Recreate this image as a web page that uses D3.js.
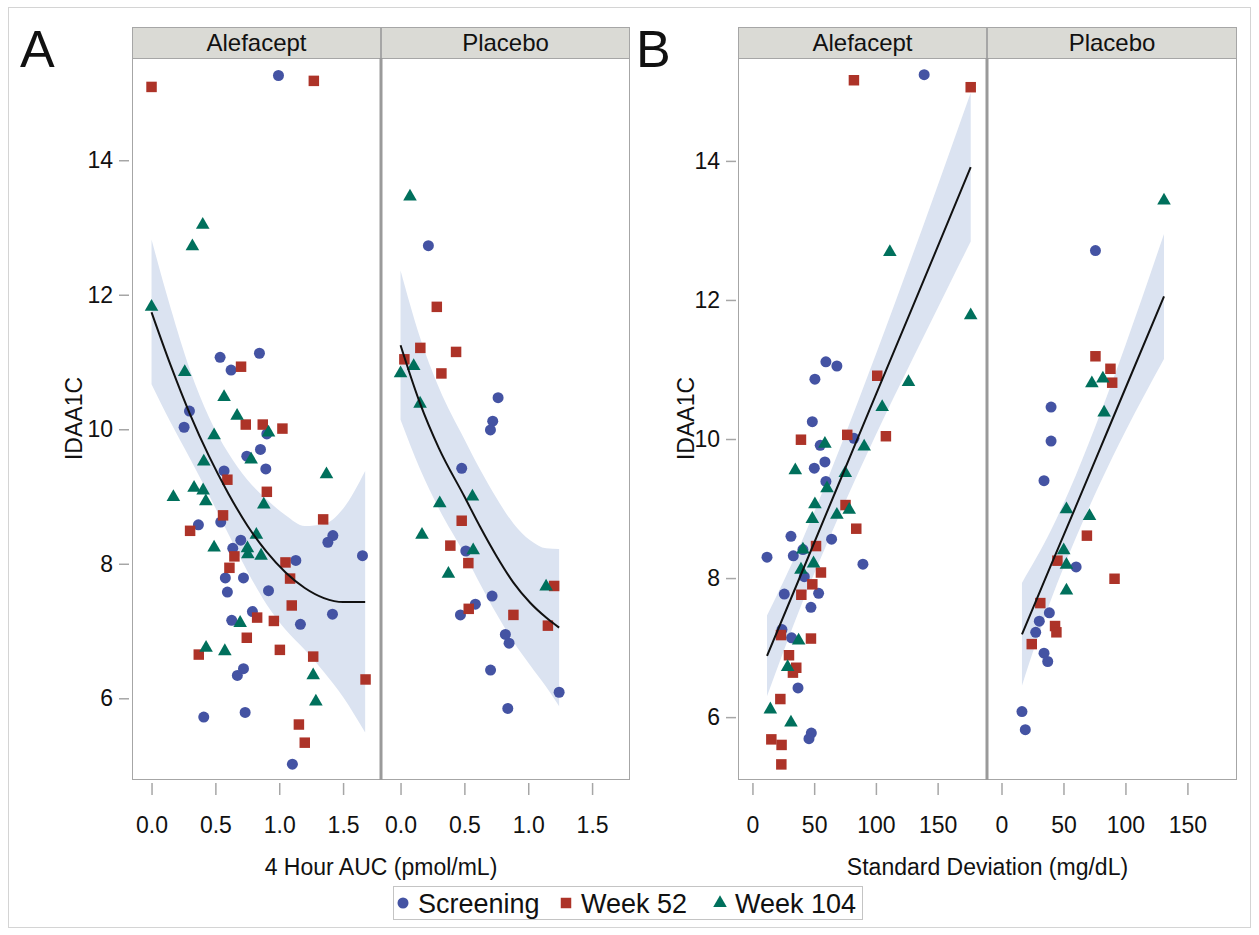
<!DOCTYPE html>
<html>
<head>
<meta charset="utf-8">
<script src="https://cdn.jsdelivr.net/npm/d3@7"></script>
<style>
  body { margin: 0; background: #fff; }
  svg text { font-family: "Liberation Sans", Arial, Helvetica, sans-serif; fill: #111; }
</style>
</head>
<body>
<svg id="chart" width="1259" height="935"></svg>
<script>
// ---- Categories and labels ----
const groups = ["Alefacept", "Placebo"];
const seriesNames = ["Screening", "Week 52", "Week 104"];
const yTicks = [6, 8, 10, 12, 14];
const aucTicks = [0, 0.5, 1.0, 1.5];
const sdTicks = [0, 50, 100, 150];
const yTitle = "IDAA1C";
const aucTitle = "4 Hour AUC (pmol/mL)";
const sdTitle = "Standard Deviation (mg/dL)";

// ---- Panel A: 4 hour AUC vs IDAA1C, Alefacept ----
const aucAlefScreening = [[0.994,15.26],[0.537,11.07],[0.845,11.13],[0.623,10.88],[0.297,10.27],[0.255,10.03],[0.903,9.93],[0.853,9.70],[0.746,9.60],[0.895,9.41],[0.568,9.38],[0.542,8.62],[0.367,8.58],[1.42,8.42],[1.381,8.32],[0.699,8.35],[0.636,8.23],[0.578,7.79],[0.72,7.79],[0.594,7.58],[0.916,7.60],[1.13,8.05],[1.652,8.12],[1.417,7.25],[0.79,7.29],[0.628,7.16],[1.166,7.10],[0.72,6.44],[0.672,6.34],[0.409,5.72],[0.733,5.79],[1.103,5.02]];
const aucAlefWeek52 = [[0.0,15.09],[1.271,15.18],[0.701,10.93],[0.738,10.07],[0.871,10.07],[1.025,10.01],[0.594,9.25],[0.903,9.07],[0.56,8.72],[0.302,8.49],[1.344,8.66],[0.649,8.11],[0.61,7.94],[1.049,8.02],[1.085,7.78],[1.098,7.38],[0.827,7.20],[0.958,7.15],[0.746,6.90],[1.005,6.72],[1.266,6.62],[0.37,6.65],[1.676,6.28],[1.154,5.61],[1.2,5.34]];
const aucAlefWeek104 = [[0.401,13.04],[0.32,12.72],[0.0,11.82],[0.26,10.85],[0.568,10.48],[0.67,10.20],[0.916,9.95],[0.49,9.91],[0.78,9.55],[0.409,9.52],[0.171,8.99],[0.333,9.13],[0.404,9.09],[0.425,8.93],[0.879,8.88],[1.37,9.33],[0.821,8.43],[0.49,8.24],[0.751,8.23],[0.754,8.14],[0.858,8.12],[0.694,7.12],[0.427,6.75],[0.574,6.70],[1.266,6.34],[1.287,5.95]];
// quadratic fit with its confidence limits, sampled along the x range
const aucAlefFitX = [0, 0.15, 0.3, 0.45, 0.6, 0.75, 0.9, 1.05, 1.2, 1.35, 1.5, 1.673];
const aucAlefFit  = [11.74, 10.95, 10.23, 9.60, 9.05, 8.57, 8.18, 7.87, 7.64, 7.49, 7.43, 7.43];
const aucAlefLow  = [10.67, 10.10, 9.57, 9.02, 8.45, 7.89, 7.40, 7.02, 6.72, 6.39, 6.02, 5.49];
const aucAlefHigh = [12.82, 11.80, 10.89, 10.18, 9.65, 9.25, 8.96, 8.72, 8.56, 8.59, 8.82, 9.38];

// ---- Panel A: Placebo ----
const aucPlacScreening = [[0.218,12.73],[0.764,10.47],[0.722,10.12],[0.704,9.99],[0.479,9.42],[0.511,8.19],[0.717,7.52],[0.586,7.40],[0.469,7.24],[0.821,6.95],[0.85,6.82],[0.705,6.42],[1.242,6.09],[0.84,5.85]];
const aucPlacWeek52 = [[0.284,11.82],[0.155,11.21],[0.435,11.15],[0.03,11.04],[0.32,10.83],[0.479,8.64],[0.39,8.27],[0.531,8.01],[1.203,7.67],[0.534,7.33],[0.884,7.24],[1.154,7.08]];
const aucPlacWeek104 = [[0.074,13.46],[0.103,10.94],[0.0,10.83],[0.153,10.38],[0.307,8.90],[0.563,9.00],[0.168,8.43],[0.569,8.20],[0.375,7.85],[1.14,7.66]];
const aucPlacFitX = [0, 0.15, 0.3, 0.5, 0.623, 0.75, 0.884, 1.015, 1.14, 1.242];
const aucPlacFit  = [11.25, 10.40, 9.72, 9.00, 8.55, 8.12, 7.72, 7.42, 7.20, 7.05];
const aucPlacLow  = [10.14, 9.42, 8.82, 8.15, 7.70, 7.26, 6.84, 6.49, 6.17, 5.88];
const aucPlacHigh = [12.36, 11.38, 10.62, 9.85, 9.40, 8.98, 8.60, 8.35, 8.23, 8.22];

// ---- Panel B: glucose standard deviation vs IDAA1C, Alefacept ----
const sdAlefScreening = [[139.1,15.24],[59.5,11.11],[68.4,11.05],[50.6,10.86],[48.5,10.25],[82.2,10.01],[54.9,9.91],[58.7,9.67],[50.1,9.58],[59.5,9.39],[31.2,8.60],[64.1,8.56],[11.8,8.30],[33.1,8.32],[40.9,8.41],[89.5,8.20],[42.0,8.02],[25.8,7.77],[53.6,7.78],[47.4,7.58],[23.9,7.26],[31.7,7.14],[36.9,6.42],[47.7,5.77],[45.8,5.69]];
const sdAlefWeek52 = [[82.2,15.16],[176.8,15.06],[101.1,10.91],[39.3,9.99],[76.8,10.06],[108.1,10.04],[75.4,9.05],[84.1,8.71],[51.5,8.46],[55.5,8.08],[48.5,7.91],[39.6,7.76],[23.1,7.18],[47.4,7.13],[29.6,6.89],[35.5,6.71],[32.8,6.64],[22.6,6.26],[15.3,5.68],[23.6,5.60],[23.4,5.32]];
const sdAlefWeek104 = [[111.3,12.69],[176.8,11.78],[126.4,10.82],[105.1,10.46],[58.7,9.93],[90.5,9.89],[34.7,9.55],[75.2,9.51],[60.4,9.29],[50.6,9.06],[78.4,8.98],[48.5,8.85],[68.4,8.91],[40.9,8.41],[49.5,8.21],[39.3,8.12],[37.4,7.10],[28.5,6.72],[14.5,6.11],[31.2,5.92]];
const sdAlefFitX = [11.8, 40, 70, 100, 130, 160, 176.8];
const sdAlefFit  = [6.88, 8.08, 9.36, 10.64, 11.91, 13.19, 13.91];
const sdAlefLow  = [6.30, 7.63, 8.89, 10.06, 11.16, 12.24, 12.84];
const sdAlefHigh = [7.46, 8.53, 9.83, 11.22, 12.66, 14.14, 14.98];

// ---- Panel B: Placebo ----
const sdPlacScreening = [[75.8,12.71],[40.0,10.46],[40.0,9.97],[34.3,9.40],[60.2,8.16],[38.6,7.50],[30.5,7.38],[27.6,7.22],[34.3,6.92],[37.3,6.80],[16.5,6.08],[19.2,5.82]];
const sdPlacWeek52 = [[75.8,11.19],[87.9,11.01],[89.3,10.81],[68.9,8.61],[45.1,8.25],[91.2,7.99],[31.3,7.64],[43.2,7.31],[44.3,7.22],[24.4,7.05]];
const sdPlacWeek104 = [[131.1,13.43],[72.9,10.80],[81.8,10.87],[82.8,10.38],[52.4,8.99],[71.0,8.89],[50.2,8.40],[52.4,8.19],[52.4,7.82]];
const sdPlacFitX = [16.5, 40, 60, 80, 100, 131.1];
const sdPlacFit  = [7.19, 8.19, 9.03, 9.88, 10.73, 12.05];
const sdPlacLow  = [6.45, 7.69, 8.58, 9.38, 10.11, 11.15];
const sdPlacHigh = [7.93, 8.69, 9.48, 10.38, 11.35, 12.95];

// ---- Appearance ----
const colors = { "Screening": "#4453a3", "Week 52": "#ad3328", "Week 104": "#00705c" };
const symbols = { "Screening": d3.symbolCircle, "Week 52": d3.symbolSquare, "Week 104": d3.symbolTriangle };
const symSize = { "Screening": 95, "Week 52": 110, "Week 104": 80 };
const bandColor = "#dbe3f1";
const frameColor = "#a6a6a6";
const headerFill = "#dadad5";

const svg = d3.select("#chart");

// outer frame around the whole figure
svg.append("rect").attr("x", 8.5).attr("y", 7.5).attr("width", 1242).attr("height", 920)
  .attr("fill", "none").attr("stroke", "#d4d4d4").attr("stroke-width", 1);

function makeFacet(series, fitX, fit, low, high) {
  return {
    series: { "Screening": series[0], "Week 52": series[1], "Week 104": series[2] },
    fitX, fit, low, high
  };
}

const panels = [
  {
    letter: "A", letterX: 20,
    facetX: [[132, 381], [381, 630]],
    xDomain: [-0.153, 1.797], yDomain: [4.8, 15.52],
    xTicks: aucTicks, xFormat: d3.format(".1f"), xTitle: aucTitle,
    yAxisX: 129, yTitleX: 82,
    facets: [
      makeFacet([aucAlefScreening, aucAlefWeek52, aucAlefWeek104], aucAlefFitX, aucAlefFit, aucAlefLow, aucAlefHigh),
      makeFacet([aucPlacScreening, aucPlacWeek52, aucPlacWeek104], aucPlacFitX, aucPlacFit, aucPlacLow, aucPlacHigh)
    ]
  },
  {
    letter: "B", letterX: 636,
    facetX: [[738, 987], [987, 1237]],
    xDomain: [-11.7, 190], yDomain: [5.11, 15.48],
    xTicks: sdTicks, xFormat: d3.format("d"), xTitle: sdTitle,
    yAxisX: 736, yTitleX: 694,
    facets: [
      makeFacet([sdAlefScreening, sdAlefWeek52, sdAlefWeek104], sdAlefFitX, sdAlefFit, sdAlefLow, sdAlefHigh),
      makeFacet([sdPlacScreening, sdPlacWeek52, sdPlacWeek104], sdPlacFitX, sdPlacFit, sdPlacLow, sdPlacHigh)
    ]
  }
];

const plotTop = 58, plotBottom = 779, headerTop = 27;

panels.forEach((p, pi) => {
  const g = svg.append("g");
  const y = d3.scaleLinear().domain(p.yDomain).range([plotBottom, plotTop]);

  // panel letter
  g.append("text").attr("x", p.letterX).attr("y", 67)
    .attr("font-size", 52).text(p.letter);

  p.facets.forEach((f, fi) => {
    const [x0, x1] = p.facetX[fi];
    const x = d3.scaleLinear().domain(p.xDomain).range([x0, x1]);
    const clipId = `clip-${pi}-${fi}`;
    svg.append("clipPath").attr("id", clipId)
      .append("rect").attr("x", x0).attr("y", plotTop).attr("width", x1 - x0).attr("height", plotBottom - plotTop);

    // facet header
    g.append("rect").attr("x", x0 + 0.5).attr("y", headerTop + 0.5)
      .attr("width", x1 - x0 - 1).attr("height", plotTop - headerTop)
      .attr("fill", headerFill).attr("stroke", frameColor);
    g.append("text").attr("x", (x0 + x1) / 2).attr("y", headerTop + 24)
      .attr("text-anchor", "middle").attr("font-size", 24).text(groups[fi]);

    const plot = g.append("g").attr("clip-path", `url(#${clipId})`);

    // confidence band
    const bandPts = f.fitX.map((v, i) => ({ x: v, lo: f.low[i], hi: f.high[i] }));
    plot.append("path").datum(bandPts)
      .attr("fill", bandColor)
      .attr("d", d3.area().x(d => x(d.x)).y0(d => y(d.lo)).y1(d => y(d.hi)).curve(d3.curveMonotoneX));

    // scatter points per visit
    seriesNames.forEach(s => {
      plot.selectAll(null).data(f.series[s]).enter().append("path")
        .attr("transform", d => `translate(${x(d[0])},${y(d[1])})`)
        .attr("d", d3.symbol().type(symbols[s]).size(symSize[s]))
        .attr("fill", colors[s]);
    });

    // fitted curve
    const fitPts = f.fitX.map((v, i) => ({ x: v, y: f.fit[i] }));
    plot.append("path").datum(fitPts)
      .attr("fill", "none").attr("stroke", "#111").attr("stroke-width", 2)
      .attr("d", d3.line().x(d => x(d.x)).y(d => y(d.y)).curve(d3.curveMonotoneX));

    // facet frame
    g.append("rect").attr("x", x0 + 0.5).attr("y", plotTop + 0.5)
      .attr("width", x1 - x0 - 1).attr("height", plotBottom - plotTop)
      .attr("fill", "none").attr("stroke", frameColor);

    // x axis
    const xa = g.append("g").attr("transform", `translate(0,${plotBottom + 4})`)
      .call(d3.axisBottom(x).tickValues(p.xTicks).tickFormat(p.xFormat).tickSize(12).tickPadding(22));
    xa.select(".domain").remove();
    xa.selectAll(".tick line").attr("stroke", frameColor).attr("stroke-width", 1.5);
    xa.selectAll(".tick text").attr("font-size", 23).attr("fill", "#111")
      .attr("font-family", "'Liberation Sans', Arial, sans-serif");
  });

  // divider between facets
  const mid = p.facetX[0][1];
  g.append("line").attr("x1", mid).attr("x2", mid).attr("y1", plotTop).attr("y2", plotBottom + 1)
    .attr("stroke", "#9a9a9a").attr("stroke-width", 3);

  // y axis
  const ya = g.append("g").attr("transform", `translate(${p.yAxisX},0)`)
    .call(d3.axisLeft(y).tickValues(yTicks).tickSize(10).tickPadding(6));
  ya.select(".domain").remove();
  ya.selectAll(".tick line").attr("stroke", frameColor).attr("stroke-width", 1.5);
  ya.selectAll(".tick text").attr("font-size", 23).attr("fill", "#111")
    .attr("font-family", "'Liberation Sans', Arial, sans-serif");

  // axis titles
  g.append("text")
    .attr("transform", `translate(${p.yTitleX},${(plotTop + plotBottom) / 2}) rotate(-90)`)
    .attr("text-anchor", "middle").attr("font-size", 23).text(yTitle);
  g.append("text").attr("x", (p.facetX[0][0] + p.facetX[1][1]) / 2).attr("y", 875)
    .attr("text-anchor", "middle").attr("font-size", 23).text(p.xTitle);
});

// legend
const legend = svg.append("g");
legend.append("rect").attr("x", 393.5).attr("y", 886.5).attr("width", 469).attr("height", 33)
  .attr("fill", "#fff").attr("stroke", "#c4c4c4");
const legendItemX = [403, 566, 720];
seriesNames.forEach((s, i) => {
  legend.append("path")
    .attr("transform", `translate(${legendItemX[i]},${903})`)
    .attr("d", d3.symbol().type(symbols[s]).size(symSize[s]))
    .attr("fill", colors[s]);
  legend.append("text").attr("x", legendItemX[i] + 15).attr("y", 913)
    .attr("font-size", 27).text(s);
});
</script>
</body>
</html>
